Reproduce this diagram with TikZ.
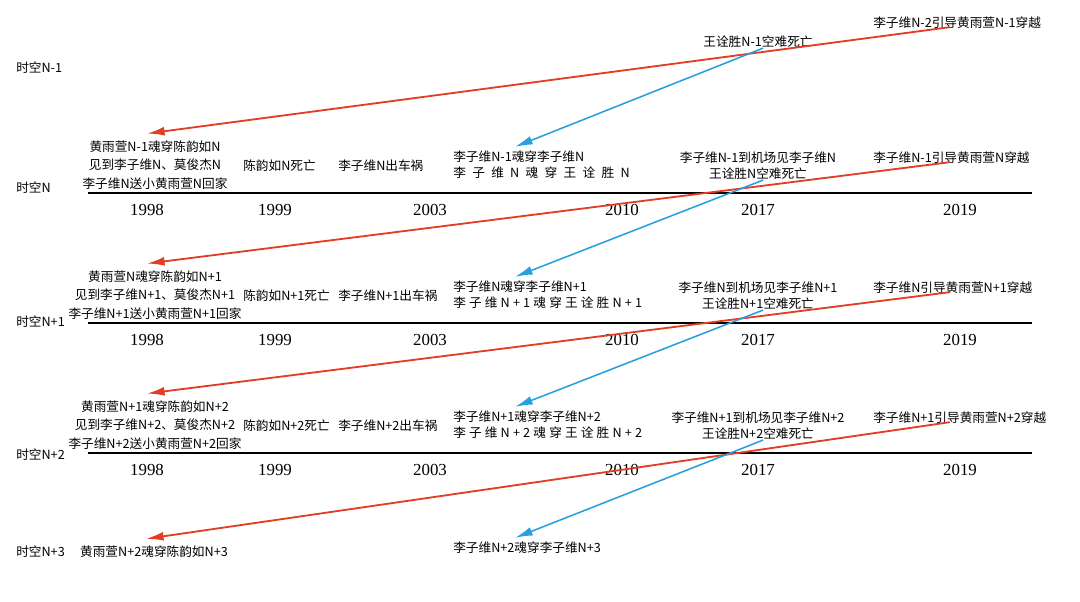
\documentclass[tikz,border=0pt]{standalone}
\usepackage{fontspec}
\setmainfont{Liberation Serif}
\newfontfamily\cjk{Noto Sans CJK SC}
\usetikzlibrary{arrows.meta, calc}

\definecolor{jumpred}{RGB}{226, 62, 36}
\definecolor{soulblue}{RGB}{38, 160, 222}

\tikzset{
	lbl/.style = {font = \cjk\fontsize{9pt}{13pt}\selectfont, inner sep = 0},
	two/.style = {font = \cjk\fontsize{9pt}{11.4pt}\selectfont},
	yr/.style = {font = \fontsize{12pt}{14pt}\selectfont, inner sep = 0},
	axis/.style = {line width = 1.2pt},
	jump/.style = {->, jumpred, line width = 1.3pt},
	soul/.style = {->, soulblue, line width = 1.1pt}
}

\begin{document}
\begin{tikzpicture}[> = {Latex[length = 4.4mm, width = 2.2mm]}, x = 0.025cm, y = -0.025cm]

	\useasboundingbox (0, 0) rectangle (1080, 602);

	% Space-time N-1 (only the top end)
	
	\node [lbl, anchor = west] (t-0) at (16, 68) {时空N-1};
	\node [lbl] (g17-0) at (758, 42) {王诠胜N-1空难死亡};
	\node [lbl, anchor = west] (r19-0) at (873, 23) {李子维N-2引导黄雨萱N-1穿越};

	% Space-time N, N+1, N+2
	
	\foreach \i/\prv/\cur/\spc/\ty in {1/N-1/N/{\spaceskip = .5em 李 子 维 N 魂 穿 王 诠 胜 N}/188,
			2/N/N+1/{\spaceskip = .25em 李 子 维 N + 1 魂 穿 王 诠 胜 N + 1}/322,
			3/N+1/N+2/{\spaceskip = .25em 李 子 维 N + 2 魂 穿 王 诠 胜 N + 2}/455} {
		\pgfmathsetmacro\y{63 + 130 * \i}
		\node [lbl, anchor = west] (t-\i) at (16, \ty) {时空\cur};
		\coordinate (l-\i) at (88, \y);
		\coordinate (r-\i) at (1032, \y);
		\draw [axis] (l-\i) -- (r-\i);
		\foreach \yr/\x in {1998/147, 1999/275, 2003/430, 2010/622, 2017/758, 2019/960}
			\node [yr] (y\yr-\i) at (\x, \y + 17) {\yr};
		\node [lbl, align = center] (g98-\i) at (155, \y - 28) {黄雨萱\prv{}魂穿陈韵如\cur{}\\见到李子维\cur{}、莫俊杰\cur{}\\李子维\cur{}送小黄雨萱\cur{}回家};
		\node [lbl, anchor = west] (d99-\i) at (243, \y - 27) {陈韵如\cur{}死亡};
		\node [lbl, anchor = west] (c03-\i) at (338, \y - 27) {李子维\cur{}出车祸};
		\node [lbl, two, align = left, anchor = west] (g10-\i) at (453, \y - 28) {李子维\prv{}魂穿李子维\cur{}\\{\spc}};
		\node [lbl, two, align = center] (g17-\i) at (758, \y - 27) {李子维\prv{}到机场见李子维\cur{}\\王诠胜\cur{}空难死亡};
		\node [lbl, anchor = west] (r19-\i) at (873, \y - 35) {李子维\prv{}引导黄雨萱\cur{}穿越};
	}

	% Space-time N+3 (only the bottom end)
	
	\node [lbl, anchor = west] (t-4) at (16, 552) {时空N+3};
	\node [lbl] (g98-4) at (154, 552) {黄雨萱N+2魂穿陈韵如N+3};
	\node [lbl, anchor = west] (g10-4) at (453, 548) {李子维N+2魂穿李子维N+3};

	% Jumps
	
	\foreach \i in {0, ..., 3} {
		\pgfmathtruncatemacro\j{\i + 1}
		\draw [jump] ($(r19-\i.south west) + (77, -2)$) -- ($(g98-\j.north) + (-8, -7)$);
		\draw [soul] ($(g17-\i.south) + (5, 0)$) -- ($(g10-\j.north west) + (62, -4)$);
	}

\end{tikzpicture}
\end{document}
